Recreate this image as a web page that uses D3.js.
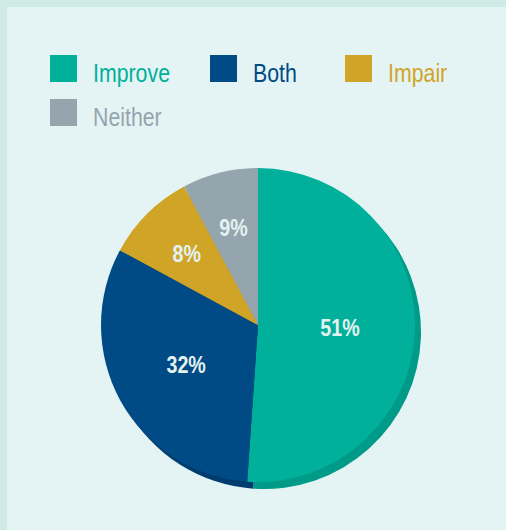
<!DOCTYPE html>
<html>
<head>
<meta charset="utf-8">
<script src="https://cdn.jsdelivr.net/npm/d3@7"></script>
<style>
  html, body { margin: 0; padding: 0; background: #d0ebe6; }
  svg { display: block; }
</style>
</head>
<body>
<div class="canvas"></div>
<script>
// data
const categories = ["Improve", "Both", "Impair", "Neither"];
const values = [51.1, 31.8, 9.3, 7.8]; // slice sizes as drawn
const labels = ["51%", "32%", "8%", "9%"]; // printed labels
const colors = ["#00b09b", "#004b85", "#d0a427", "#95a5ae"];
const shadowColors = ["#009a88", "#003c6e", "#b58e20", "#80909a"];

const width = 506;
const height = 530;
const frame = 7;

const svg = d3
  .select(".canvas")
  .append("svg")
  .attr("width", width)
  .attr("height", height);

// frame + panel
svg.append("rect").attr("width", width).attr("height", height).attr("fill", "#d0ebe6");
svg
  .append("rect")
  .attr("x", frame)
  .attr("y", frame)
  .attr("width", width - frame)
  .attr("height", height - frame)
  .attr("fill", "#e4f4f4");

// no condensed font installed, so squeeze Liberation Sans horizontally
const font = "'Liberation Sans', Arial, sans-serif";
const squeeze = 0.82;

// legend: three columns, wraps after the third item
const box = 27;
const legendCols = [50, 210, 345];
const legendTop = 55;
const rowGap = 44;

const legend = svg.append("g");
categories.forEach((c, i) => {
  const col = i % legendCols.length;
  const row = Math.floor(i / legendCols.length);
  const item = legend
    .append("g")
    .attr("transform", `translate(${legendCols[col]},${legendTop + row * rowGap})`);
  item.append("rect").attr("width", box).attr("height", box).attr("fill", colors[i]);
  item
    .append("text")
    .attr("transform", `translate(${box + 16},${box}) scale(${squeeze},1)`)
    .attr("font-family", font)
    .attr("font-size", 26)
    .attr("fill", colors[i])
    .text(c);
});

// pie
const cx = 258;
const cy = 325;
const radius = 157;

const pie = d3.pie().sort(null).value((d) => d);
const arcs = pie(values);
const arc = d3.arc().innerRadius(0).outerRadius(radius);

const shadow = svg.append("g").attr("transform", `translate(${cx + 6},${cy + 7})`);
shadow
  .selectAll("path")
  .data(arcs)
  .enter()
  .append("path")
  .attr("d", arc)
  .attr("fill", (d, i) => shadowColors[i]);

const graph = svg.append("g").attr("transform", `translate(${cx},${cy})`);
graph
  .selectAll("path")
  .data(arcs)
  .enter()
  .append("path")
  .attr("d", arc)
  .attr("fill", (d, i) => colors[i]);

// labels: big slices nearer the middle
const labelPos = (d) => {
  const r = d.data >= 20 ? 82 : 101;
  return d3.arc().innerRadius(r).outerRadius(r).centroid(d);
};

graph
  .selectAll("text")
  .data(arcs)
  .enter()
  .append("text")
  .attr("transform", (d) => `translate(${labelPos(d)}) scale(${squeeze},1)`)
  .attr("text-anchor", "middle")
  .attr("dy", "0.36em")
  .attr("font-family", font)
  .attr("font-weight", "bold")
  .attr("font-size", 24)
  .attr("fill", "#e4f1f1")
  .text((d, i) => labels[i]);
</script>
</body>
</html>
